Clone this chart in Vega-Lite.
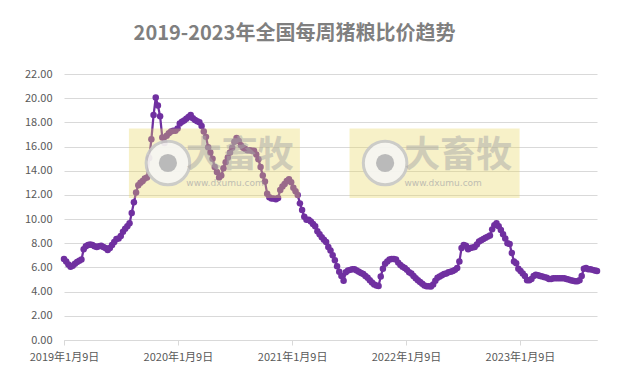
{
  "$schema": "https://vega.github.io/schema/vega-lite/v6.json",
  "width": 533,
  "height": 266,
  "autosize": {"type": "none"},
  "padding": {"left": 64, "top": 74, "right": 26, "bottom": 37},
  "background": "white",
  "title": {
    "text": "2019-2023年全国每周猪粮比价趋势",
    "font": "Noto Sans CJK SC",
    "fontSize": 20,
    "fontWeight": "bold",
    "color": "#7f7f7f",
    "anchor": "middle",
    "dx": -36,
    "offset": 24
  },
  "config": {
    "view": {"stroke": null},
    "axis": {"labelFont": "Noto Sans CJK SC", "labelColor": "#595959", "labelFontSize": 11, "title": null},
    "axisX": {"grid": false, "domainColor": "#d9d9d9", "tickColor": "#d9d9d9", "tickSize": 5, "labelPadding": 6, "labelFlush": false, "labelOverlap": false},
    "axisY": {"domain": false, "ticks": false, "labelPadding": 12, "labelOverlap": false, "gridColor": "#d9d9d9", "gridWidth": 1}
  },
  "datasets": {
    "pig": [
      {"d":"2019-01-09","v":6.7},{"d":"2019-01-16","v":6.5},{"d":"2019-01-23","v":6.25},{"d":"2019-01-30","v":6.05},
      {"d":"2019-02-06","v":6.15},{"d":"2019-02-13","v":6.3},{"d":"2019-02-20","v":6.45},{"d":"2019-02-27","v":6.55},
      {"d":"2019-03-06","v":6.65},{"d":"2019-03-13","v":7.5},{"d":"2019-03-20","v":7.75},{"d":"2019-03-27","v":7.85},
      {"d":"2019-04-03","v":7.9},{"d":"2019-04-10","v":7.85},{"d":"2019-04-17","v":7.75},{"d":"2019-04-24","v":7.7},
      {"d":"2019-05-01","v":7.75},{"d":"2019-05-08","v":7.8},{"d":"2019-05-15","v":7.7},{"d":"2019-05-22","v":7.6},{"d":"2019-05-29","v":7.45},
      {"d":"2019-06-05","v":7.6},{"d":"2019-06-12","v":7.85},{"d":"2019-06-19","v":8.1},{"d":"2019-06-26","v":8.35},
      {"d":"2019-07-03","v":8.4},{"d":"2019-07-10","v":8.6},{"d":"2019-07-17","v":8.95},{"d":"2019-07-24","v":9.2},{"d":"2019-07-31","v":9.4},
      {"d":"2019-08-07","v":9.65},{"d":"2019-08-14","v":10.5},{"d":"2019-08-21","v":11.4},{"d":"2019-08-28","v":12.2},
      {"d":"2019-09-04","v":12.8},{"d":"2019-09-11","v":13.0},{"d":"2019-09-18","v":13.15},{"d":"2019-09-25","v":13.35},
      {"d":"2019-10-02","v":13.45},{"d":"2019-10-09","v":15.05},{"d":"2019-10-16","v":16.6},{"d":"2019-10-23","v":18.6},{"d":"2019-10-30","v":20.05},
      {"d":"2019-11-06","v":19.4},{"d":"2019-11-13","v":18.5},{"d":"2019-11-20","v":16.75},{"d":"2019-11-27","v":16.3},
      {"d":"2019-12-04","v":16.9},{"d":"2019-12-11","v":17.1},{"d":"2019-12-18","v":17.25},{"d":"2019-12-25","v":17.3},
      {"d":"2020-01-01","v":17.3},{"d":"2020-01-08","v":17.5},{"d":"2020-01-15","v":17.9},{"d":"2020-01-22","v":18.05},{"d":"2020-01-29","v":18.15},
      {"d":"2020-02-05","v":18.3},{"d":"2020-02-12","v":18.45},{"d":"2020-02-19","v":18.6},{"d":"2020-02-26","v":18.35},
      {"d":"2020-03-04","v":18.2},{"d":"2020-03-11","v":18.1},{"d":"2020-03-18","v":18.0},{"d":"2020-03-25","v":17.7},
      {"d":"2020-04-01","v":17.25},{"d":"2020-04-08","v":16.8},{"d":"2020-04-15","v":15.95},{"d":"2020-04-22","v":15.5},{"d":"2020-04-29","v":15.0},
      {"d":"2020-05-06","v":14.3},{"d":"2020-05-13","v":13.9},{"d":"2020-05-20","v":13.45},{"d":"2020-05-27","v":13.6},
      {"d":"2020-06-03","v":14.2},{"d":"2020-06-10","v":14.7},{"d":"2020-06-17","v":15.1},{"d":"2020-06-24","v":15.5},
      {"d":"2020-07-01","v":15.9},{"d":"2020-07-08","v":16.4},{"d":"2020-07-15","v":16.7},{"d":"2020-07-22","v":16.45},{"d":"2020-07-29","v":16.1},
      {"d":"2020-08-05","v":15.9},{"d":"2020-08-12","v":15.8},{"d":"2020-08-19","v":15.7},{"d":"2020-08-26","v":15.7},
      {"d":"2020-09-02","v":15.65},{"d":"2020-09-09","v":15.65},{"d":"2020-09-16","v":15.35},{"d":"2020-09-23","v":14.95},{"d":"2020-09-30","v":14.3},
      {"d":"2020-10-07","v":13.6},{"d":"2020-10-14","v":13.1},{"d":"2020-10-21","v":12.1},{"d":"2020-10-28","v":11.8},
      {"d":"2020-11-04","v":11.7},{"d":"2020-11-11","v":11.7},{"d":"2020-11-18","v":11.65},{"d":"2020-11-25","v":11.75},
      {"d":"2020-12-02","v":12.4},{"d":"2020-12-09","v":12.7},{"d":"2020-12-16","v":12.9},{"d":"2020-12-23","v":13.15},{"d":"2020-12-30","v":13.3},
      {"d":"2021-01-06","v":13.05},{"d":"2021-01-13","v":12.6},{"d":"2021-01-20","v":12.3},{"d":"2021-01-27","v":12.0},
      {"d":"2021-02-03","v":11.3},{"d":"2021-02-10","v":10.75},{"d":"2021-02-17","v":10.2},{"d":"2021-02-24","v":9.95},
      {"d":"2021-03-03","v":9.95},{"d":"2021-03-10","v":9.8},{"d":"2021-03-17","v":9.6},{"d":"2021-03-24","v":9.4},{"d":"2021-03-31","v":9.0},
      {"d":"2021-04-07","v":8.75},{"d":"2021-04-14","v":8.5},{"d":"2021-04-21","v":8.3},{"d":"2021-04-28","v":8.1},
      {"d":"2021-05-05","v":7.7},{"d":"2021-05-12","v":7.4},{"d":"2021-05-19","v":7.0},{"d":"2021-05-26","v":6.6},
      {"d":"2021-06-02","v":6.1},{"d":"2021-06-09","v":5.65},{"d":"2021-06-16","v":5.3},{"d":"2021-06-23","v":4.9},{"d":"2021-06-30","v":5.6},
      {"d":"2021-07-07","v":5.75},{"d":"2021-07-14","v":5.8},{"d":"2021-07-21","v":5.85},{"d":"2021-07-28","v":5.85},
      {"d":"2021-08-04","v":5.75},{"d":"2021-08-11","v":5.65},{"d":"2021-08-18","v":5.55},{"d":"2021-08-25","v":5.45},
      {"d":"2021-09-01","v":5.3},{"d":"2021-09-08","v":5.15},{"d":"2021-09-15","v":4.95},{"d":"2021-09-22","v":4.75},{"d":"2021-09-29","v":4.6},
      {"d":"2021-10-06","v":4.5},{"d":"2021-10-13","v":4.47},{"d":"2021-10-20","v":5.25},{"d":"2021-10-27","v":5.9},
      {"d":"2021-11-03","v":6.3},{"d":"2021-11-10","v":6.5},{"d":"2021-11-17","v":6.65},{"d":"2021-11-24","v":6.7},
      {"d":"2021-12-01","v":6.7},{"d":"2021-12-08","v":6.65},{"d":"2021-12-15","v":6.4},{"d":"2021-12-22","v":6.2},{"d":"2021-12-29","v":6.05},
      {"d":"2022-01-05","v":5.95},{"d":"2022-01-12","v":5.8},{"d":"2022-01-19","v":5.6},{"d":"2022-01-26","v":5.5},
      {"d":"2022-02-02","v":5.3},{"d":"2022-02-09","v":5.1},{"d":"2022-02-16","v":4.95},{"d":"2022-02-23","v":4.8},
      {"d":"2022-03-02","v":4.65},{"d":"2022-03-09","v":4.5},{"d":"2022-03-16","v":4.45},{"d":"2022-03-23","v":4.45},{"d":"2022-03-30","v":4.42},
      {"d":"2022-04-06","v":4.6},{"d":"2022-04-13","v":4.9},{"d":"2022-04-20","v":5.15},{"d":"2022-04-27","v":5.25},
      {"d":"2022-05-04","v":5.35},{"d":"2022-05-11","v":5.45},{"d":"2022-05-18","v":5.5},{"d":"2022-05-25","v":5.6},
      {"d":"2022-06-01","v":5.65},{"d":"2022-06-08","v":5.7},{"d":"2022-06-15","v":5.8},{"d":"2022-06-22","v":5.95},{"d":"2022-06-29","v":6.5},
      {"d":"2022-07-06","v":7.6},{"d":"2022-07-13","v":7.85},{"d":"2022-07-20","v":7.8},{"d":"2022-07-27","v":7.5},
      {"d":"2022-08-03","v":7.6},{"d":"2022-08-10","v":7.65},{"d":"2022-08-17","v":7.7},{"d":"2022-08-24","v":7.9},{"d":"2022-08-31","v":8.15},
      {"d":"2022-09-07","v":8.25},{"d":"2022-09-14","v":8.35},{"d":"2022-09-21","v":8.45},{"d":"2022-09-28","v":8.55},
      {"d":"2022-10-05","v":8.65},{"d":"2022-10-12","v":9.15},{"d":"2022-10-19","v":9.5},{"d":"2022-10-26","v":9.65},
      {"d":"2022-11-02","v":9.4},{"d":"2022-11-09","v":9.1},{"d":"2022-11-16","v":8.75},{"d":"2022-11-23","v":8.4},{"d":"2022-11-30","v":8.0},
      {"d":"2022-12-07","v":7.95},{"d":"2022-12-14","v":7.2},{"d":"2022-12-21","v":6.5},{"d":"2022-12-28","v":6.35},
      {"d":"2023-01-04","v":5.9},{"d":"2023-01-11","v":5.7},{"d":"2023-01-18","v":5.5},{"d":"2023-01-25","v":5.3},
      {"d":"2023-02-01","v":4.95},{"d":"2023-02-08","v":4.95},{"d":"2023-02-15","v":5.05},{"d":"2023-02-22","v":5.3},
      {"d":"2023-03-01","v":5.4},{"d":"2023-03-08","v":5.35},{"d":"2023-03-15","v":5.3},{"d":"2023-03-22","v":5.25},{"d":"2023-03-29","v":5.2},
      {"d":"2023-04-05","v":5.15},{"d":"2023-04-12","v":5.05},{"d":"2023-04-19","v":5.05},{"d":"2023-04-26","v":5.1},
      {"d":"2023-05-03","v":5.1},{"d":"2023-05-10","v":5.1},{"d":"2023-05-17","v":5.1},{"d":"2023-05-24","v":5.1},{"d":"2023-05-31","v":5.1},
      {"d":"2023-06-07","v":5.05},{"d":"2023-06-14","v":5.0},{"d":"2023-06-21","v":4.95},{"d":"2023-06-28","v":4.9},
      {"d":"2023-07-05","v":4.85},{"d":"2023-07-12","v":4.85},{"d":"2023-07-19","v":4.95},{"d":"2023-07-26","v":5.3},
      {"d":"2023-08-02","v":5.9},{"d":"2023-08-09","v":5.95},{"d":"2023-08-16","v":5.85},{"d":"2023-08-23","v":5.85},{"d":"2023-08-30","v":5.8},
      {"d":"2023-09-06","v":5.75},{"d":"2023-09-13","v":5.7}
    ],
    "wm": [
      {"x1":"2019-08-05","x2":"2021-02-03","y1":11.74,"y2":17.5,"logo":"2019-12-08","brand":"2020-07-25","url":"2020-06-08"},
      {"x1":"2021-07-12","x2":"2023-01-08","y1":11.74,"y2":17.5,"logo":"2021-11-03","brand":"2022-06-25","url":"2022-05-08"}
    ]
  },
  "layer": [
    {
      "data": {"name": "pig"},
      "mark": {"type": "line", "color": "#7030A0", "strokeWidth": 2.25, "point": {"filled": true, "size": 42, "color": "#7030A0"}},
      "encoding": {
        "x": {
          "field": "d", "type": "temporal",
          "scale": {"type": "utc", "domain": ["2019-01-09", "2023-09-13"]},
          "axis": {"values": ["2019-01-09", "2020-01-09", "2021-01-09", "2022-01-09", "2023-01-09"], "labelExpr": "utcFormat(datum.value, '%Y年%-m月%-d日')"}
        },
        "y": {
          "field": "v", "type": "quantitative",
          "scale": {"domain": [0, 22], "nice": false},
          "axis": {"values": [0, 2, 4, 6, 8, 10, 12, 14, 16, 18, 20, 22], "labelExpr": "format(datum.value, '.2f')"}
        }
      }
    },
    {
      "data": {"name": "wm"},
      "mark": {"type": "rect", "fill": "#e8d860", "opacity": 0.35},
      "encoding": {
        "x": {"field": "x1", "type": "temporal", "axis": {"values": ["2019-01-09", "2020-01-09", "2021-01-09", "2022-01-09", "2023-01-09"], "labelExpr": "utcFormat(datum.value, '%Y年%-m月%-d日')"}},
        "x2": {"field": "x2"},
        "y": {"field": "y1", "type": "quantitative", "axis": {"values": [0, 2, 4, 6, 8, 10, 12, 14, 16, 18, 20, 22], "labelExpr": "format(datum.value, '.2f')"}},
        "y2": {"field": "y2"}
      }
    },
    {
      "data": {"name": "wm"},
      "mark": {"type": "point", "shape": "circle", "size": 1900, "filled": true, "fill": "#f6f6f4", "stroke": "#c8c8c8", "strokeWidth": 3, "opacity": 0.9},
      "encoding": {
        "x": {"field": "logo", "type": "temporal", "axis": {"values": ["2019-01-09", "2020-01-09", "2021-01-09", "2022-01-09", "2023-01-09"], "labelExpr": "utcFormat(datum.value, '%Y年%-m月%-d日')"}},
        "y": {"datum": 14.64, "type": "quantitative", "axis": {"values": [0, 2, 4, 6, 8, 10, 12, 14, 16, 18, 20, 22], "labelExpr": "format(datum.value, '.2f')"}}
      }
    },
    {
      "data": {"name": "wm"},
      "mark": {"type": "point", "shape": "circle", "size": 330, "filled": true, "color": "#b4b4b4", "opacity": 0.9},
      "encoding": {
        "x": {"field": "logo", "type": "temporal", "axis": {"values": ["2019-01-09", "2020-01-09", "2021-01-09", "2022-01-09", "2023-01-09"], "labelExpr": "utcFormat(datum.value, '%Y年%-m月%-d日')"}},
        "y": {"datum": 14.64, "type": "quantitative", "axis": {"values": [0, 2, 4, 6, 8, 10, 12, 14, 16, 18, 20, 22], "labelExpr": "format(datum.value, '.2f')"}}
      }
    },
    {
      "data": {"name": "wm"},
      "mark": {"type": "text", "text": "大畜牧", "font": "Noto Sans CJK SC", "fontSize": 36, "fontWeight": "bold", "color": "#a8a8a8", "opacity": 0.5, "baseline": "middle", "align": "center"},
      "encoding": {
        "x": {"field": "brand", "type": "temporal", "axis": {"values": ["2019-01-09", "2020-01-09", "2021-01-09", "2022-01-09", "2023-01-09"], "labelExpr": "utcFormat(datum.value, '%Y年%-m月%-d日')"}},
        "y": {"datum": 15.2, "type": "quantitative", "axis": {"values": [0, 2, 4, 6, 8, 10, 12, 14, 16, 18, 20, 22], "labelExpr": "format(datum.value, '.2f')"}}
      }
    },
    {
      "data": {"name": "wm"},
      "mark": {"type": "text", "text": "www.dxumu.com", "font": "DejaVu Sans", "fontSize": 9, "color": "#a8a8a8", "opacity": 0.7, "baseline": "middle", "align": "center"},
      "encoding": {
        "x": {"field": "url", "type": "temporal", "axis": {"values": ["2019-01-09", "2020-01-09", "2021-01-09", "2022-01-09", "2023-01-09"], "labelExpr": "utcFormat(datum.value, '%Y年%-m月%-d日')"}},
        "y": {"datum": 13.0, "type": "quantitative", "axis": {"values": [0, 2, 4, 6, 8, 10, 12, 14, 16, 18, 20, 22], "labelExpr": "format(datum.value, '.2f')"}}
      }
    }
  ]
}
